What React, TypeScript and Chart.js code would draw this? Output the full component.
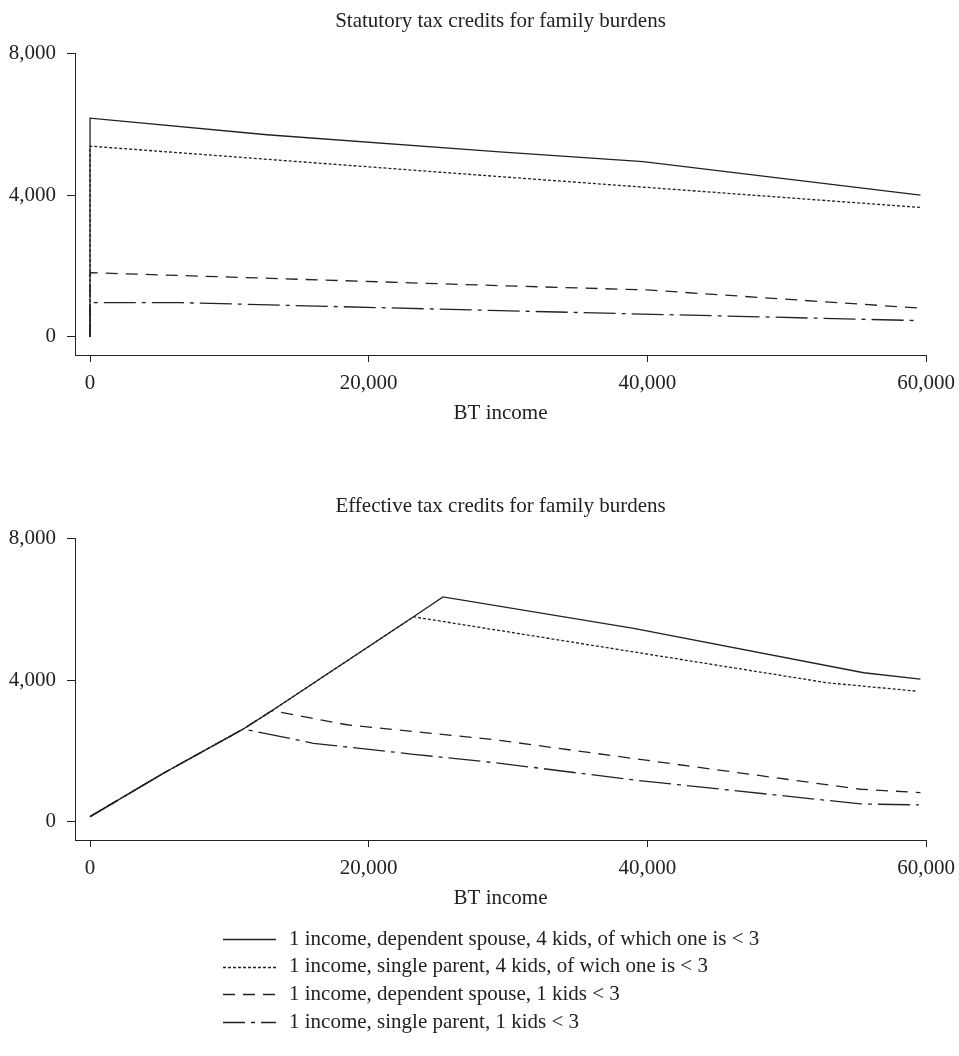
import React, { useEffect, useRef } from "react";
import { Chart, registerables } from "chart.js";

Chart.register(...registerables);

const FONT_FAMILY = "'Liberation Serif', 'Times New Roman', serif";
const INK = "#222";

// Axis ticks
const xTickValues = [0, 20000, 40000, 60000];
const yTickValues = [0, 4000, 8000];
const xMin = -1080;
const xMax = 60000;
const yMin = -510;
const yMax = 8000;

const seriesLabels = [
  "1 income, dependent spouse, 4 kids, of which one is < 3",
  "1 income, single parent, 4 kids, of wich one is < 3",
  "1 income, dependent spouse, 1 kids < 3",
  "1 income, single parent, 1 kids < 3",
];
const seriesDashes = [[], [3, 2], [12, 8], [32, 6, 4, 6]];
const legendDashOffsets = [0, 0, 0, 10];

// Statutory tax credits (top panel)
const statSpouse4X = [0, 0, 12700, 29400, 39700, 59600];
const statSpouse4Y = [0, 6170, 5700, 5220, 4940, 4000];
const statSingle4X = [0, 0, 29400, 59600];
const statSingle4Y = [0, 5380, 4520, 3650];
const statSpouse1X = [0, 0, 29400, 40000, 59700];
const statSpouse1Y = [0, 1812, 1446, 1324, 808];
const statSingle1X = [0, 0, 6500, 29400, 59400];
const statSingle1Y = [0, 966, 966, 741, 460];

// Effective tax credits (bottom panel)
const effSpouse4X = [0, 5265, 11000, 13050, 23220, 25330, 39020, 55530, 59600];
const effSpouse4Y = [150, 1372, 2620, 3136, 5783, 6346, 5455, 4206, 4028];
const effSingle4X = [0, 5265, 11000, 13050, 23220, 52900, 59250];
const effSingle4Y = [150, 1372, 2620, 3136, 5783, 3924, 3690];
const effSpouse1X = [0, 5265, 11000, 13050, 18430, 29200, 55300, 59600];
const effSpouse1Y = [150, 1372, 2620, 3136, 2740, 2310, 921, 826];
const effSingle1X = [0, 5265, 11000, 16040, 23220, 29440, 39000, 55300, 59500];
const effSingle1Y = [150, 1372, 2620, 2217, 1907, 1653, 1183, 507, 479];

const font = { family: FONT_FAMILY, size: 21, weight: "normal" as const };

function zip(xs: number[], ys: number[]) {
  return xs.map((x, i) => ({ x, y: ys[i] }));
}

const legendPlugin = {
  id: "customLegend",
  afterDraw(chart: any, _args: any, opts: any) {
    if (!opts || !opts.show) return;
    const ctx = chart.ctx;
    const xs = chart.scales.x;
    const left = chart.chartArea.left + 148;
    const top = xs.bottom + 28;
    ctx.save();
    ctx.font = `21px ${FONT_FAMILY}`;
    ctx.textBaseline = "middle";
    ctx.textAlign = "left";
    chart.data.datasets.forEach((ds: any, i: number) => {
      const y = top + i * 27.7;
      ctx.beginPath();
      ctx.setLineDash(ds.borderDash || []);
      ctx.lineDashOffset = legendDashOffsets[i];
      ctx.strokeStyle = INK;
      ctx.lineWidth = 1.3;
      ctx.moveTo(left, Math.round(y) + 0.5);
      ctx.lineTo(left + 53, Math.round(y) + 0.5);
      ctx.stroke();
      ctx.setLineDash([]);
      ctx.lineDashOffset = 0;
      ctx.fillStyle = INK;
      ctx.fillText(ds.label, left + 66, y);
    });
    ctx.restore();
  },
};

function makeConfig(title: string, xs: number[][], ys: number[][], withLegend: boolean): any {
  return {
    type: "line",
    data: {
      datasets: xs.map((xArr, i) => ({
        label: seriesLabels[i],
        data: zip(xArr, ys[i]),
        borderColor: INK,
        borderWidth: 1.3,
        borderDash: seriesDashes[i],
        pointRadius: 0,
        fill: false,
        tension: 0,
      })),
    },
    options: {
      responsive: false,
      animation: false,
      devicePixelRatio: 1,
      layout: { padding: { left: 0, right: 33, top: 0, bottom: withLegend ? 145 : 0 } },
      plugins: {
        legend: { display: false },
        tooltip: { enabled: false },
        title: {
          display: true,
          fullSize: false,
          text: title,
          font,
          color: INK,
          padding: { top: 9, bottom: 19 },
        },
        customLegend: { show: withLegend },
      },
      scales: {
        x: {
          type: "linear",
          min: xMin,
          max: xMax,
          afterBuildTicks: (s: any) => {
            s.ticks = xTickValues.map((v) => ({ value: v }));
          },
          afterFit: (s: any) => {
            s.height = 71;
            s.paddingLeft = 0;
            s.paddingRight = 0;
          },
          ticks: {
            font,
            color: INK,
            padding: 9,
            maxRotation: 0,
            autoSkip: false,
            callback: (v: any) => Number(v).toLocaleString("en-US"),
          },
          grid: { drawOnChartArea: false, drawTicks: true, tickLength: 7, color: INK, lineWidth: 1 },
          border: { display: true, color: INK, width: 1 },
          title: { display: true, text: "BT income", font, color: INK, padding: 0 },
        },
        y: {
          type: "linear",
          min: yMin,
          max: yMax,
          afterBuildTicks: (s: any) => {
            s.ticks = yTickValues.map((v) => ({ value: v }));
          },
          afterFit: (s: any) => {
            s.width = 75;
          },
          ticks: {
            font,
            color: INK,
            padding: 11,
            autoSkip: false,
            callback: (v: any) => Number(v).toLocaleString("en-US"),
          },
          grid: { drawOnChartArea: false, drawTicks: true, tickLength: 8, color: INK, lineWidth: 1 },
          border: { display: true, color: INK, width: 1 },
        },
      },
    },
    plugins: [legendPlugin],
  };
}

export default function App() {
  const topRef = useRef<HTMLCanvasElement | null>(null);
  const botRef = useRef<HTMLCanvasElement | null>(null);

  useEffect(() => {
    const c1 = new Chart(
      topRef.current as HTMLCanvasElement,
      makeConfig(
        "Statutory tax credits for family burdens",
        [statSpouse4X, statSingle4X, statSpouse1X, statSingle1X],
        [statSpouse4Y, statSingle4Y, statSpouse1Y, statSingle1Y],
        false
      )
    );
    const c2 = new Chart(
      botRef.current as HTMLCanvasElement,
      makeConfig(
        "Effective tax credits for family burdens",
        [effSpouse4X, effSingle4X, effSpouse1X, effSingle1X],
        [effSpouse4Y, effSingle4Y, effSpouse1Y, effSingle1Y],
        true
      )
    );
    return () => {
      c1.destroy();
      c2.destroy();
    };
  }, []);

  return (
    <div style={{ position: "absolute", left: 0, top: 0, width: 959, height: 1056, background: "#fff" }}>
      <canvas ref={topRef} width={959} height={426} style={{ position: "absolute", left: 0, top: 0, display: "block" }} />
      <canvas ref={botRef} width={959} height={571} style={{ position: "absolute", left: 0, top: 485, display: "block" }} />
    </div>
  );
}
